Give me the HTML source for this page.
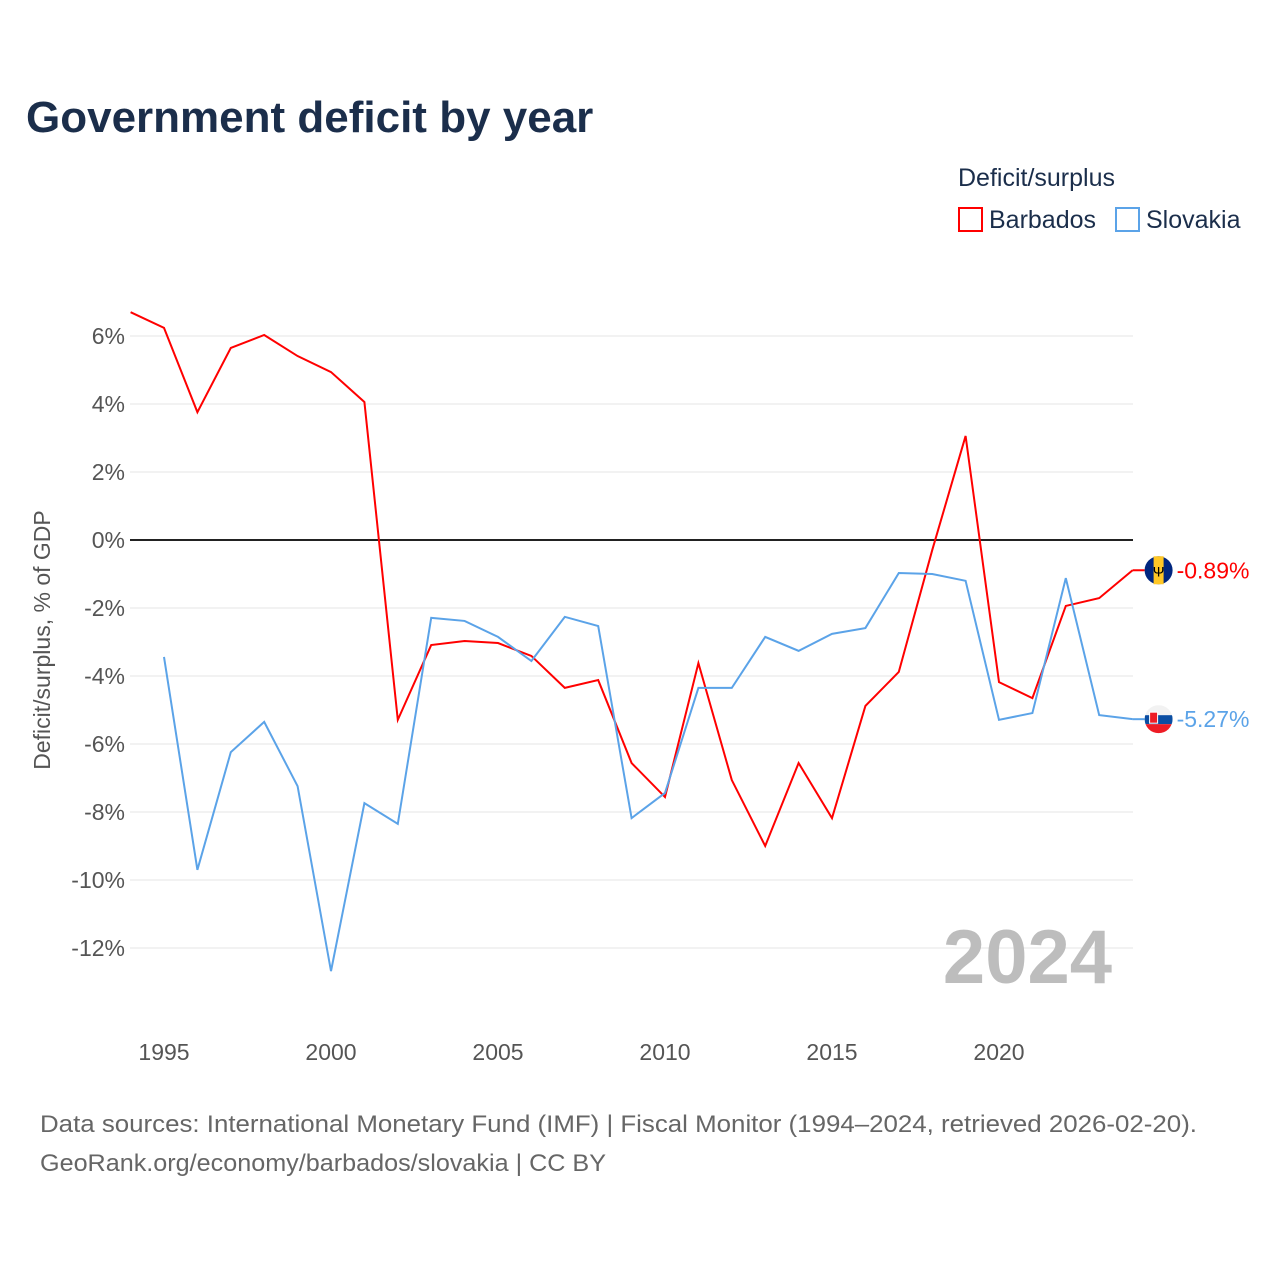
<!DOCTYPE html>
<html><head><meta charset="utf-8"><style>
body{margin:0;background:#fff;font-family:"Liberation Sans",sans-serif;}
svg text{font-family:"Liberation Sans",sans-serif;}
</style></head><body>
<svg id="c" width="1280" height="1280" xmlns="http://www.w3.org/2000/svg">
<defs><clipPath id="cp"><circle id="cpc" cx="0" cy="0" r="14"/></clipPath></defs>
<text x="26" y="132" font-size="44" font-weight="bold" fill="#1b2e4b">Government deficit by year</text>
<text x="958" y="186" font-size="25" fill="#1b2e4b">Deficit/surplus</text>
<g><rect x="959" y="208" width="23" height="23" fill="none" stroke="#ff0000" stroke-width="2"/><text x="989" y="228" font-size="25" fill="#1b2e4b">Barbados</text></g>
<g><rect x="1116" y="208" width="23" height="23" fill="none" stroke="#5ba3e8" stroke-width="2"/><text x="1146" y="228" font-size="25" fill="#1b2e4b">Slovakia</text></g>
<g id="grid"></g>
<text transform="translate(50,640) rotate(-90)" text-anchor="middle" font-size="23" fill="#555">Deficit/surplus, % of GDP</text>
<text x="1112" y="983" text-anchor="end" font-size="76" font-weight="bold" fill="#bdbdbd">2024</text>
<g id="series"></g>
<text x="40" y="1132" font-size="24" fill="#666" textLength="1157" lengthAdjust="spacingAndGlyphs">Data sources: International Monetary Fund (IMF) | Fiscal Monitor (1994–2024, retrieved 2026-02-20).</text>
<text x="40" y="1171" font-size="24" fill="#666" textLength="566" lengthAdjust="spacingAndGlyphs">GeoRank.org/economy/barbados/slovakia | CC BY</text>
</svg>
<script>
const yTicks=[6,4,2,0,-2,-4,-6,-8,-10,-12];
const xTicks=[1995,2000,2005,2010,2015,2020];
const barbYears=[1994,1995,1996,1997,1998,1999,2000,2001,2002,2003,2004,2005,2006,2007,2008,2009,2010,2011,2012,2013,2014,2015,2016,2017,2018,2019,2020,2021,2022,2023,2024];
const barbVals=[6.7,6.24,3.76,5.65,6.03,5.41,4.94,4.06,-5.29,-3.09,-2.97,-3.03,-3.41,-4.35,-4.12,-6.56,-7.56,-3.62,-7.06,-9.0,-6.56,-8.18,-4.88,-3.88,-0.3,3.06,-4.18,-4.65,-1.94,-1.71,-0.89];
const slovYears=[1995,1996,1997,1998,1999,2000,2001,2002,2003,2004,2005,2006,2007,2008,2009,2010,2011,2012,2013,2014,2015,2016,2017,2018,2019,2020,2021,2022,2023,2024];
const slovVals=[-3.44,-9.7,-6.24,-5.35,-7.24,-12.68,-7.74,-8.35,-2.29,-2.38,-2.85,-3.56,-2.26,-2.53,-8.18,-7.44,-4.35,-4.35,-2.85,-3.26,-2.76,-2.59,-0.97,-1.0,-1.2,-5.29,-5.09,-1.12,-5.15,-5.27];
const NS="http://www.w3.org/2000/svg";
const X=yr=>164+(yr-1995)*33.4;
const Y=v=>540-v*34;
function mk(t,a,p){const e=document.createElementNS(NS,t);for(const k in a)e.setAttribute(k,a[k]);p.appendChild(e);return e;}
const grid=document.getElementById('grid');
yTicks.forEach(v=>{
  const l=mk('line',{x1:130,x2:1133,y1:Y(v),y2:Y(v),stroke:v===0?'#222':'#e6e6e6','stroke-width':v===0?2:1},grid);
  
  
  const t=mk('text',{x:125,y:Y(v)+8,'text-anchor':'end','font-size':23,fill:'#555'},grid);
  t.textContent=v+'%';
  
  
});
xTicks.forEach(yr=>{
  const t=mk('text',{x:X(yr),y:1060,'text-anchor':'middle','font-size':23,fill:'#555'},grid);
  t.textContent=yr;
  
  
});
const s=document.getElementById('series');
function line(years,vals,col,name){
  const p=mk('polyline',{points:years.map((y,i)=>X(y)+','+Y(vals[i])).join(' '),fill:'none',stroke:col,'stroke-width':2},s);
  
  
  const ly=years[years.length-1],lv=vals[vals.length-1];
  mk('line',{x1:X(ly),x2:X(ly)+12,y1:Y(lv),y2:Y(lv),stroke:col,'stroke-width':2},s);
  const g=mk('g',{},s);
  
  
  return {x:X(ly)+26,y:Y(lv),g,lv};
}
const b=line(barbYears,barbVals,'#ff0000','barbados-line');
mk('circle',{cx:b.x,cy:b.y,r:14,fill:'#00267f'},b.g);
mk('rect',{x:b.x-5,y:b.y-14,width:10,height:28,fill:'#ffc726'},b.g);
mk('text',{x:b.x,y:b.y+6,'text-anchor':'middle','font-size':14,fill:'#000'},b.g).textContent='Ψ';
const bl=mk('text',{x:b.x+18,y:b.y+8,'font-size':23,fill:'#ff0000'},s);bl.textContent=b.lv.toFixed(2)+'%';


const sv=line(slovYears,slovVals,'#5ba3e8','slovakia-line');
const cpc=document.getElementById('cpc');cpc.setAttribute('cx',sv.x);cpc.setAttribute('cy',sv.y);
const fg=mk('g',{'clip-path':'url(#cp)'},sv.g);
mk('rect',{x:sv.x-14,y:sv.y-14,width:28,height:10,fill:'#f2f2f2'},fg);
mk('rect',{x:sv.x-14,y:sv.y-4,width:28,height:9,fill:'#0b4ea2'},fg);
mk('rect',{x:sv.x-14,y:sv.y+5,width:28,height:10,fill:'#ee1c25'},fg);
mk('rect',{x:sv.x-9,y:sv.y-7,width:8,height:11,fill:'#ee1c25',stroke:'#fff','stroke-width':1},fg);
const sl=mk('text',{x:sv.x+18,y:sv.y+8,'font-size':23,fill:'#5ba3e8'},s);sl.textContent=sv.lv.toFixed(2)+'%';


</script>
</body></html>
